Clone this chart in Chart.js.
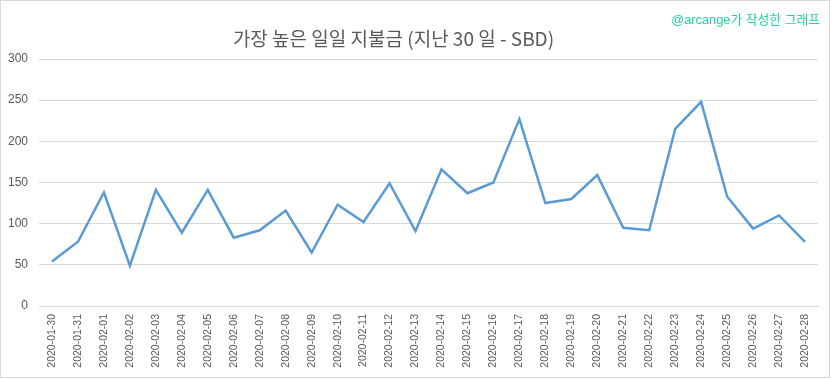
<!DOCTYPE html>
<html>
<head>
<meta charset="utf-8">
<script src="https://cdn.jsdelivr.net/npm/chart.js@4.4.1/dist/chart.umd.min.js"></script>
<style>
  html, body { margin: 0; padding: 0; background: #ffffff; }
  #wrap { position: relative; width: 833px; height: 379px; }
  #frame { position: absolute; left: 0; top: 0; width: 830px; height: 378px; box-sizing: border-box; border: 1px solid #d9d9d9; pointer-events: none; }
  #title { position: absolute; left: 0; top: 26px; width: 787px; text-align: center; font-family: "Noto Sans CJK KR", sans-serif; font-size: 19px; line-height: 23px; color: #595959; white-space: nowrap; }
  #credit { position: absolute; right: 13px; top: 9px; font-family: "Liberation Sans", "Noto Sans CJK KR", sans-serif; font-size: 12.8px; color: #1fd1a5; white-space: nowrap; }
</style>
</head>
<body>
<div id="wrap">
  <canvas id="c" width="833" height="379"></canvas>
  <div id="frame"></div>
  <div id="title"></div>
  <div id="credit">@arcange가 작성한 그래프</div>
</div>
<script>
const titleText = "가장 높은 일일 지불금 (지난 30 일 - SBD)";
const categories = [
  "2020-01-30","2020-01-31","2020-02-01","2020-02-02","2020-02-03","2020-02-04","2020-02-05",
  "2020-02-06","2020-02-07","2020-02-08","2020-02-09","2020-02-10","2020-02-11","2020-02-12",
  "2020-02-13","2020-02-14","2020-02-15","2020-02-16","2020-02-17","2020-02-18","2020-02-19",
  "2020-02-20","2020-02-21","2020-02-22","2020-02-23","2020-02-24","2020-02-25","2020-02-26",
  "2020-02-27","2020-02-28"
];
const payouts = [
  54, 78, 138, 49, 141, 89, 141,
  83, 92, 116, 65, 123, 102, 149,
  91, 166, 137, 150, 227, 125, 130,
  159, 95, 92, 215, 248, 133, 94,
  110, 78
];
const yTicks = [0, 50, 100, 150, 200, 250, 300];

document.getElementById('title').textContent = titleText;

Chart.defaults.font.family = '"Liberation Sans", Arial, sans-serif';
Chart.defaults.color = '#595959';

new Chart(document.getElementById('c'), {
  type: 'line',
  data: {
    labels: categories,
    datasets: [{
      data: payouts,
      borderColor: '#5b9bd5',
      borderWidth: 2.5,
      pointRadius: 0,
      tension: 0,
      fill: false
    }]
  },
  options: {
    responsive: false,
    devicePixelRatio: 1,
    animation: false,
    layout: { padding: { top: 59, right: 15, bottom: 0, left: 0 } },
    plugins: {
      legend: { display: false },
      tooltip: { enabled: false },
      title: { display: false }
    },
    scales: {
      x: {
        offset: true,
        grid: { display: false, drawTicks: false },
        border: { display: true, color: '#d9d9d9', width: 1 },
        ticks: {
          autoSkip: false, maxRotation: 90, minRotation: 90, padding: 8,
          color: '#595959', font: { size: 10.5 }
        },
        afterFit: (s) => { s.height = 73; }
      },
      y: {
        min: 0, max: 300,
        afterBuildTicks: (s) => { s.ticks = yTicks.map(v => ({ value: v })); },
        grid: { color: '#d9d9d9', lineWidth: 1, drawTicks: false },
        border: { display: false },
        ticks: { padding: 11, color: '#595959', font: { size: 12 } },
        afterFit: (s) => { s.width = 39; }
      }
    }
  }
});
</script>
</body>
</html>
